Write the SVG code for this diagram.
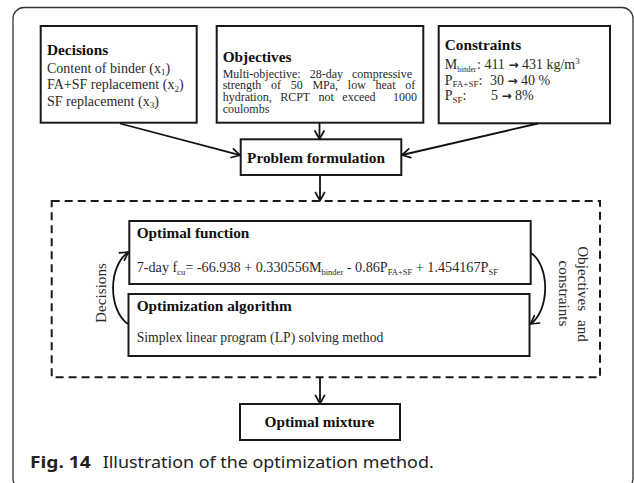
<svg xmlns="http://www.w3.org/2000/svg" width="634" height="483" viewBox="0 0 634 483">
<defs>
<marker id="ah" markerWidth="12" markerHeight="12" refX="10" refY="6" orient="auto" markerUnits="userSpaceOnUse">
<path d="M2,1.5 L10,6 L2,10.5" fill="none" stroke="#111" stroke-width="1.7" stroke-linejoin="round" stroke-linecap="round"/>
</marker>
</defs>
<style>
.box{fill:#fff;stroke:#1a1a1a;stroke-width:2}
.t{font-family:"Liberation Serif","Times New Roman",serif;fill:#2a2a2a}
.b{font-weight:bold;font-size:15.3px;fill:#111}
.r{font-size:14px}
.f{font-size:14.2px}
.s{font-size:12px}
.sub{font-size:8.5px}
.arr{font-family:"DejaVu Sans",sans-serif;font-weight:bold;font-size:12px}
.ln{fill:none;stroke:#111;stroke-width:1.8}
.cap{font-family:"Noto Sans","Open Sans",sans-serif;font-size:16.5px;fill:#222}
</style>
<rect x="13" y="7.5" width="620" height="482" rx="11" fill="#fff" stroke="#333" stroke-width="1.3"/>

<g id="decisions">
<rect class="box" x="40.7" y="26" width="156" height="96.7"/>
<text class="t b" x="47" y="55">Decisions</text>
<text class="t r" x="47" y="72.5">Content of binder (x<tspan font-size="9" dy="2.5">1</tspan><tspan dy="-2.5">)</tspan></text>
<text class="t r" x="47" y="89">FA+SF replacement (x<tspan font-size="9" dy="2.5">2</tspan><tspan dy="-2.5">)</tspan></text>
<text class="t r" x="47" y="105.5">SF replacement (x<tspan font-size="9" dy="2.5">3</tspan><tspan dy="-2.5">)</tspan></text>
</g>

<g id="objectives">
<rect class="box" x="216.7" y="26" width="206.6" height="96.7"/>
<text class="t b" x="222.7" y="61.7">Objectives</text>
<text class="t s" x="222.7" y="77.5" word-spacing="6">Multi-objective: 28-day compressive</text>
<text class="t s" x="222.7" y="89.2" word-spacing="6.7">strength of 50 MPa, low heat of</text>
<text class="t s" x="222.7" y="100.9" word-spacing="5.5">hydration, RCPT not exceed <tspan x="393">1000</tspan></text>
<text class="t s" x="222.7" y="112.6">coulombs</text>
</g>

<g id="constraints">
<rect class="box" x="438.7" y="26" width="171.3" height="97.3"/>
<text class="t b" x="444.7" y="50">Constraints</text>
<text class="t r" x="444.7" y="69">M<tspan font-size="7.5px" dy="2.5">binder</tspan><tspan dy="-2.5" x="477">: 411 </tspan><tspan class="arr">→</tspan><tspan> 431 kg/m</tspan><tspan font-size="9" dy="-5">3</tspan></text>
<text class="t r" x="444.7" y="84.5">P<tspan font-size="9" dy="2.5">FA+SF</tspan><tspan dy="-2.5">:</tspan><tspan x="490">30 </tspan><tspan class="arr">→</tspan><tspan> 40 %</tspan></text>
<text class="t r" x="444.7" y="100">P<tspan font-size="9" dy="2.5">SF</tspan><tspan dy="-2.5">:</tspan><tspan x="491">5 </tspan><tspan class="arr">→</tspan><tspan> 8%</tspan></text>
</g>

<g id="problem-formulation">
<rect class="box" x="240.7" y="139.3" width="160.6" height="35.7"/>
<text class="t b" x="316" y="163" text-anchor="middle" font-size="15.5px">Problem formulation</text>
</g>

<g id="optimization-loop">
<rect x="51.7" y="201" width="548.3" height="176.3" fill="none" stroke="#1a1a1a" stroke-width="2" stroke-dasharray="8 5"/>
</g>

<g id="optimal-function">
<rect class="box" x="129.3" y="221" width="401.4" height="63"/>
<text class="t b" x="136.7" y="237.5">Optimal function</text>
<text class="t f" x="136.7" y="272">7-day  f<tspan class="sub" dy="2.5">cu</tspan><tspan dy="-2.5">= -66.938 + 0.330556M</tspan><tspan class="sub" dy="2.5">binder</tspan><tspan dy="-2.5"> - 0.86P</tspan><tspan class="sub" dy="2.5">FA+SF</tspan><tspan dy="-2.5"> + 1.454167P</tspan><tspan class="sub" dy="2.5">SF</tspan></text>
</g>

<g id="optimization-algorithm">
<rect class="box" x="128.5" y="294" width="401" height="62"/>
<text class="t b" x="136.7" y="311">Optimization algorithm</text>
<text class="t" x="136.7" y="341.7" font-size="13.7px">Simplex linear program (LP) solving method</text>
</g>

<g id="optimal-mixture">
<rect class="box" x="240" y="404" width="160" height="36"/>
<text class="t b" x="319.5" y="427" text-anchor="middle" font-size="15px">Optimal mixture</text>
</g>

<g id="connectors">
<path class="ln" d="M120,123.5 L240,155.2" marker-end="url(#ah)"/>
<path class="ln" d="M319.5,123 L319.5,139" marker-end="url(#ah)"/>
<path class="ln" d="M538,123.5 L402,155" marker-end="url(#ah)"/>
<path class="ln" d="M320,175 L320,200.5" marker-end="url(#ah)"/>
<path class="ln" d="M320,377.5 L320,403.5" marker-end="url(#ah)"/>
<path class="ln" d="M128,324 C108,310 108,266 128.5,252" marker-end="url(#ah)"/>
<path class="ln" d="M531,253 C550,266 550,310 530.5,324" marker-end="url(#ah)"/>
<text class="t" font-size="15.2px" text-anchor="middle" transform="translate(106,293) rotate(-90)">Decisions</text>
<text class="t" font-size="15.2px" text-anchor="middle" word-spacing="5" transform="translate(578,294) rotate(90)">Objectives and</text>
<text class="t" font-size="15.2px" text-anchor="middle" transform="translate(558.5,293.5) rotate(90)">constraints</text>
</g>

<g id="caption">
<text class="cap" x="30" y="468" font-weight="bold" textLength="60.7" lengthAdjust="spacingAndGlyphs">Fig. 14</text>
<text class="cap" x="102.7" y="468" textLength="331" lengthAdjust="spacingAndGlyphs">Illustration of the optimization method.</text>
</g>
</svg>
